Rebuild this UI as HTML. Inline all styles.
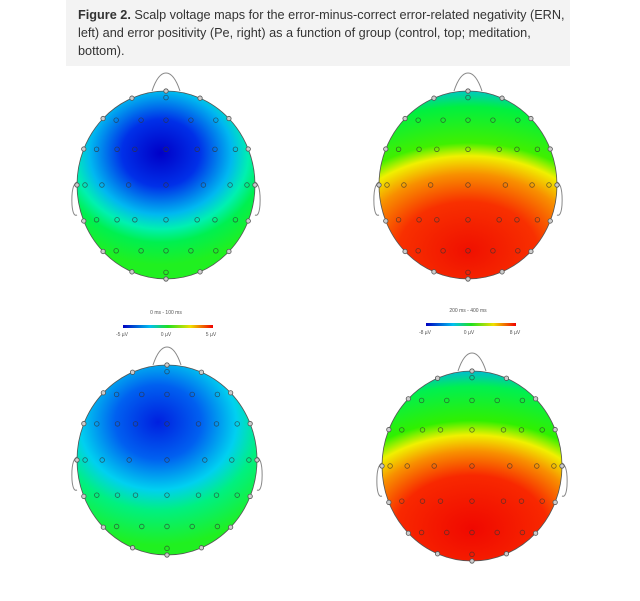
<!DOCTYPE html>
<html><head><meta charset="utf-8"><style>
body{margin:0;background:#fff;width:640px;height:601px;overflow:hidden;font-family:"Liberation Sans",sans-serif}
.cap{position:absolute;left:66px;top:0;width:504px;height:66px;background:#f3f3f3}
.cap p{margin:0;position:absolute;left:12px;top:6px;width:488px;font-size:12.7px;line-height:18px;color:#333}
svg{position:absolute;left:0;top:0}
</style></head><body>
<div class="cap"><p><b>Figure 2.</b> Scalp voltage maps for the error-minus-correct error-related negativity (ERN, left) and error positivity (Pe, right) as a function of group (control, top; meditation, bottom).</p></div>
<svg width="640" height="601" viewBox="0 0 640 601">
<defs>
<radialGradient id="ern1" cx="0.47" cy="0.33" r="0.66" gradientTransform="translate(0.47 0.33) scale(1.1 0.9) translate(-0.47 -0.33)">
<stop offset="0" stop-color="#0000c8"/><stop offset="0.3" stop-color="#0030e8"/><stop offset="0.55" stop-color="#00b8f0"/><stop offset="0.68" stop-color="#00f0b0"/><stop offset="0.8" stop-color="#00f050"/><stop offset="1" stop-color="#20f020"/></radialGradient>
<radialGradient id="ern2" cx="0.45" cy="0.3" r="0.72" gradientTransform="translate(0.45 0.3) scale(1.1 0.9) translate(-0.45 -0.3)">
<stop offset="0" stop-color="#0020e0"/><stop offset="0.3" stop-color="#0060f0"/><stop offset="0.55" stop-color="#00d0f0"/><stop offset="0.72" stop-color="#00f080"/><stop offset="1" stop-color="#20f020"/></radialGradient>
<radialGradient id="pe1" cx="0.5" cy="0.85" r="0.87" gradientTransform="translate(0.5 0.85) scale(1.5 1) translate(-0.5 -0.85)">
<stop offset="0" stop-color="#f01000"/><stop offset="0.3" stop-color="#f83000"/><stop offset="0.47" stop-color="#f89000"/><stop offset="0.58" stop-color="#f0f000"/><stop offset="0.66" stop-color="#40f000"/><stop offset="0.88" stop-color="#00f040"/><stop offset="1" stop-color="#00c0e0"/></radialGradient>
<radialGradient id="pe2" cx="0.5" cy="0.83" r="0.85" gradientTransform="translate(0.5 0.83) scale(1.5 1) translate(-0.5 -0.83)">
<stop offset="0" stop-color="#f00800"/><stop offset="0.33" stop-color="#f82800"/><stop offset="0.48" stop-color="#f89000"/><stop offset="0.58" stop-color="#f0f000"/><stop offset="0.67" stop-color="#30f000"/><stop offset="0.88" stop-color="#00f050"/><stop offset="1" stop-color="#00b0f0"/></radialGradient>
<linearGradient id="cb"><stop offset="0" stop-color="#0000c0"/><stop offset="0.3" stop-color="#00c0f0"/><stop offset="0.5" stop-color="#20e020"/><stop offset="0.75" stop-color="#f0e000"/><stop offset="1" stop-color="#f00000"/></linearGradient>
</defs>
<g id="heads"></g>
<g font-size="5" fill="#555" text-anchor="middle">
<text x="166" y="314">0 ms - 100 ms</text>
<rect x="123" y="325" width="90" height="3" fill="url(#cb)"/>
<text x="122" y="336">-5 µV</text><text x="166" y="336">0 µV</text><text x="211" y="336">5 µV</text>
<text x="468" y="312">200 ms - 400 ms</text>
<rect x="426" y="323" width="90" height="3" fill="url(#cb)"/>
<text x="425" y="334">-8 µV</text><text x="469" y="334">0 µV</text><text x="515" y="334">8 µV</text>
</g>
</svg>
<script>
var heads=[[166,185,89,94,'ern1'],[468,185,89,94,'pe1'],[167,460,90,95,'ern2'],[472,466,90,95,'pe2']];
var s='';
heads.forEach(function(h){
var cx=h[0],cy=h[1],rx=h[2],ry=h[3];
s+='<path d="M'+(cx-14)+' '+(cy-ry)+' Q'+(cx-8)+' '+(cy-ry-18)+' '+cx+' '+(cy-ry-18)+' Q'+(cx+8)+' '+(cy-ry-18)+' '+(cx+14)+' '+(cy-ry)+'" fill="none" stroke="#888" stroke-width="1"/>';
[-1,1].forEach(function(d){var ex=cx+d*rx;s+='<path d="M'+ex+' '+(cy-3)+' Q'+(ex+d*6)+' '+(cy)+' '+(ex+d*5)+' '+(cy+20)+' Q'+(ex+d*4)+' '+(cy+32)+' '+(ex)+' '+(cy+30)+'" fill="none" stroke="#888" stroke-width="1"/>';});
s+='<ellipse cx="'+cx+'" cy="'+cy+'" rx="'+rx+'" ry="'+ry+'" fill="url(#'+h[4]+')" stroke="#555" stroke-width="0.8"/>';
var rows=[[-0.93,[0]],[-0.69,[-0.56,-0.28,0,0.28,0.56]],[-0.38,[-0.78,-0.55,-0.35,0,0.35,0.55,0.78]],[0,[-0.91,-0.72,-0.42,0,0.42,0.72,0.91]],[0.37,[-0.78,-0.55,-0.35,0,0.35,0.55,0.78]],[0.7,[-0.56,-0.28,0,0.28,0.56]],[0.93,[0]]];
rows.forEach(function(r){r[1].forEach(function(x){s+='<circle cx="'+(cx+x*rx)+'" cy="'+(cy+r[0]*ry)+'" r="2.3" fill="none" stroke="#333" stroke-opacity="0.7" stroke-width="0.8"/>';});});
for(var a=0;a<360;a+=22.5){var t=a*Math.PI/180;s+='<circle cx="'+(cx+rx*Math.sin(t))+'" cy="'+(cy-ry*Math.cos(t))+'" r="2.2" fill="#ccc" stroke="#555" stroke-width="0.8"/>';}
});
document.getElementById('heads').innerHTML=s;
</script>
</body></html>
